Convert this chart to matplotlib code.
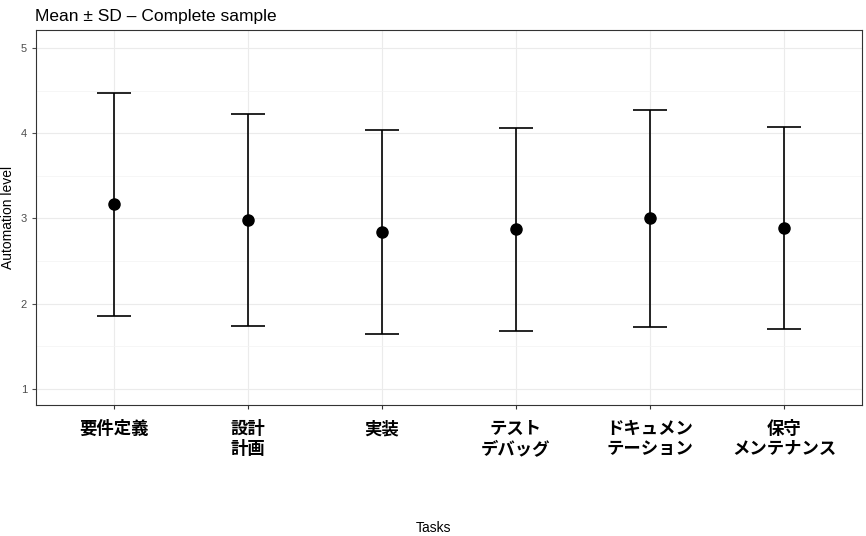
import matplotlib
matplotlib.use("Agg")
import matplotlib.pyplot as plt

plt.rcParams['font.family'] = ['Liberation Sans', 'Noto Sans CJK JP', 'DejaVu Sans']

tasks = ["要件定義", "設計\n計画", "実装", "テスト\nデバッグ", "ドキュメン\nテーション", "保守\nメンテナンス"]
means = [3.17, 2.98, 2.84, 2.87, 3.00, 2.89]
upper = [4.47, 4.23, 4.04, 4.06, 4.27, 4.07]
lower = [1.86, 1.74, 1.64, 1.68, 1.73, 1.70]

fig = plt.figure(figsize=(8.66, 5.36), dpi=100)
ax = fig.add_axes([0.0416, 0.2444, 0.9534, 0.6996])
x = list(range(1, len(tasks) + 1))
yerr = [[m - l for m, l in zip(means, lower)], [u - m for m, u in zip(means, upper)]]
ax.errorbar(x, means, yerr=yerr, fmt='o', color='black', ecolor='black',
            markersize=8, capsize=12, elinewidth=1.2, capthick=1.2, zorder=3)
ax.set_xlim(0.42, 6.58)
ax.set_ylim(0.81, 5.21)
ax.set_yticks([1, 2, 3, 4, 5])
ax.set_yticks([1.5, 2.5, 3.5, 4.5], minor=True)
ax.set_xticks(x)
ax.set_xticklabels(tasks, fontsize=12.5, fontweight='bold', linespacing=1.1,
                   family=['Noto Sans CJK JP', 'DejaVu Sans'])
ax.tick_params(axis='y', labelsize=8, colors='#4d4d4d', length=3)
ax.tick_params(axis='x', length=3, colors='#333333', labelcolor='black', pad=8)
ax.tick_params(which='minor', length=0)
ax.grid(True, which='major', color='#ebebeb', lw=0.8)
ax.grid(True, which='minor', axis='y', color='#f3f3f3', lw=0.5)
ax.set_axisbelow(True)
for s in ax.spines.values():
    s.set_color('#333333'); s.set_linewidth(0.8)
ax.set_ylabel("Automation level", fontsize=10, labelpad=4)
fig.text(0.5, 0.008, "Tasks", ha='center', fontsize=10)
fig.text(0.04, 0.96, "Mean ± SD – Complete sample", fontsize=12.5, ha='left')
fig.savefig("out.png", dpi=100)
